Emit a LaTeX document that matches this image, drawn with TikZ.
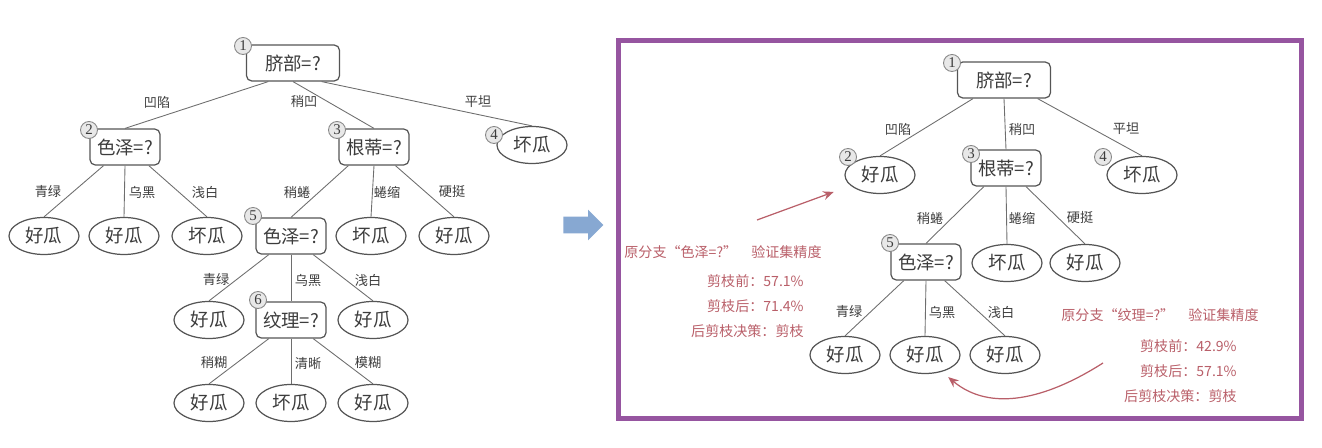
\documentclass[tikz,border=0pt]{standalone}
\usepackage{fontspec}
\setmainfont{Noto Sans CJK SC}
\newfontfamily\numfont{Liberation Serif}
\usepackage{tikz}
\usetikzlibrary{arrows.meta, shapes.geometric, shapes.arrows, positioning, calc}
\definecolor{boxgray}{RGB}{85,85,85}
\definecolor{edgegray}{RGB}{110,110,110}
\definecolor{nodegray}{RGB}{60,60,60}
\definecolor{numfill}{RGB}{232,232,232}
\definecolor{numdraw}{RGB}{135,135,135}
\definecolor{annored}{RGB}{185,95,105}
\definecolor{frameviolet}{RGB}{150,85,160}
\definecolor{arrowblue}{RGB}{135,168,210}

\begin{document}
\begin{tikzpicture}[x=0.02cm, y=-0.02cm,
        box/.style={rectangle, rounded corners=3pt, draw=boxgray, line width=0.7pt, fill=white, minimum width=1.4cm, minimum height=0.72cm, inner sep=2pt, text=nodegray, font=\fontsize{10.5}{12}\selectfont},
        root/.style={box, minimum width=1.86cm},
        leaf/.style={ellipse, draw=boxgray, line width=0.7pt, fill=white, minimum width=1.4cm, minimum height=0.74cm, inner sep=0pt, text=nodegray, font=\fontsize{10.5}{12}\selectfont},
        num/.style={circle, draw=numdraw, fill=numfill, line width=0.5pt, minimum size=0.34cm, inner sep=0pt, text=nodegray, font=\numfont\fontsize{8.5}{9}\selectfont},
        lbl/.style={inner sep=1pt, text=nodegray, font=\fontsize{7.5}{9}\selectfont},
        link/.style={draw=edgegray, line width=0.5pt},
        anno/.style={inner sep=0pt, text=annored, font=\fontsize{8}{14.2}\selectfont},
        redarrow/.style={draw=annored, line width=0.7pt, -{Stealth[length=6pt, width=5pt]}}
    ]
        \useasboundingbox (0,0) rectangle (1322,448);

        \node[root] (l1) at (293,63) {脐部=?};
        \node[box] (l2) at (125,147) {色泽=?};
        \node[box] (l3) at (374,147) {根蒂=?};
        \node[leaf] (l4) at (532,145) {坏瓜};
        \node[leaf] (l2a) at (44,236) {好瓜};
        \node[leaf] (l2b) at (124,236) {好瓜};
        \node[leaf] (l2c) at (207,236) {坏瓜};
        \node[box] (l5) at (291,236) {色泽=?};
        \node[leaf] (l3b) at (371,236) {坏瓜};
        \node[leaf] (l3c) at (454,236) {好瓜};
        \node[leaf] (l5a) at (209,320) {好瓜};
        \node[box] (l6) at (291,320) {纹理=?};
        \node[leaf] (l5c) at (373,320) {好瓜};
        \node[leaf] (l6a) at (209,403) {好瓜};
        \node[leaf] (l6b) at (291,403) {坏瓜};
        \node[leaf] (l6c) at (373,403) {好瓜};

        \draw[link] (l1.-143) -- (l2.north);
        \draw[link] (l1.south) -- (l3.north);
        \draw[link] (l1.-33) -- (l4.north);
        \draw[link] (l2.-139) -- (l2a.north);
        \draw[link] (l2.south) -- (l2b.north);
        \draw[link] (l2.-38) -- (l2c.north);
        \draw[link] (l3.-144) -- (l5.north);
        \draw[link] (l3.south) -- (l3b.north);
        \draw[link] (l3.-41) -- (l3c.north);
        \draw[link] (l5.-140) -- (l5a.north);
        \draw[link] (l5.south) -- (l6.north);
        \draw[link] (l5.-40) -- (l5c.north);
        \draw[link] (l6.-140) -- (l6a.north);
        \draw[link] (l6.south) -- (l6b.north);
        \draw[link] (l6.-40) -- (l6c.north);

        \node[lbl] (t12) at (157,102) {凹陷};
        \node[lbl] (t13) at (304,102) {稍凹};
        \node[lbl] (t14) at (478,102) {平坦};
        \node[lbl] (t2a) at (48,192) {青绿};
        \node[lbl] (t2b) at (142,192) {乌黑};
        \node[lbl] (t2c) at (205,192) {浅白};
        \node[lbl] (t35) at (297,192) {稍蜷};
        \node[lbl] (t3b) at (387,192) {蜷缩};
        \node[lbl] (t3c) at (452,192) {硬挺};
        \node[lbl] (t5a) at (216,280) {青绿};
        \node[lbl] (t56) at (308,280) {乌黑};
        \node[lbl] (t5c) at (368,280) {浅白};
        \node[lbl] (t6a) at (214,363) {稍糊};
        \node[lbl] (t6b) at (308,363) {清晰};
        \node[lbl] (t6c) at (368,363) {模糊};

        \node[num] (n1) at (243,46) {1};
        \node[num] (n2) at (89,130) {2};
        \node[num] (n3) at (337,130) {3};
        \node[num] (n4) at (494,135) {4};
        \node[num] (n5) at (253,216) {5};
        \node[num] (n6) at (258,300) {6};

        \node[single arrow, fill=arrowblue, inner sep=0pt, minimum height=0.8cm, single arrow head extend=0.14cm, anchor=west] (go) at (563,225) {\rule{0pt}{0.32cm}};

        \draw[frameviolet, line width=0.1cm] (618,41) rectangle (1301,419);

        \node[root] (r1) at (1004,80) {脐部=?};
        \node[leaf] (r2) at (880,175) {好瓜};
        \node[box] (r3) at (1006,168) {根蒂=?};
        \node[leaf] (r4) at (1142,175) {坏瓜};
        \node[box] (r5) at (926,262) {色泽=?};
        \node[leaf] (r3b) at (1007,263) {坏瓜};
        \node[leaf] (r3c) at (1085,263) {好瓜};
        \node[leaf] (r5a) at (845,355) {好瓜};
        \node[leaf] (r5b) at (925,355) {好瓜};
        \node[leaf] (r5c) at (1005,355) {好瓜};

        \draw[link] (r1.-149) -- (r2.north);
        \draw[link] (r1.south) -- (r3.north);
        \draw[link] (r1.-29) -- (r4.north);
        \draw[link] (r3.-140) -- (r5.north);
        \draw[link] (r3.south) -- (r3b.north);
        \draw[link] (r3.-43) -- (r3c.north);
        \draw[link] (r5.-140) -- (r5a.north);
        \draw[link] (r5.south) -- (r5b.north);
        \draw[link] (r5.-45) -- (r5c.north);

        \node[lbl] (s12) at (898,129) {凹陷};
        \node[lbl] (s13) at (1022,129) {稍凹};
        \node[lbl] (s14) at (1126,129) {平坦};
        \node[lbl] (s35) at (930,218) {稍蜷};
        \node[lbl] (s3b) at (1022,218) {蜷缩};
        \node[lbl] (s3c) at (1080,218) {硬挺};
        \node[lbl] (s5a) at (849,312) {青绿};
        \node[lbl] (s5b) at (942,312) {乌黑};
        \node[lbl] (s5c) at (1001,312) {浅白};

        \node[num] (m1) at (952,63) {1};
        \node[num] (m2) at (848,157) {2};
        \node[num] (m3) at (971,154) {3};
        \node[num] (m4) at (1103,157) {4};
        \node[num] (m5) at (890,243) {5};

        \node[anno] (h1) at (723,252) {原分支“色泽=?”\hspace{1em}验证集精度};
        \node[anno, align=right, anchor=east] (b1) at (804,306) {剪枝前：57.1\%\\剪枝后：71.4\%\\后剪枝决策：剪枝};
        \node[anno] (h2) at (1160,315) {原分支“纹理=?”\hspace{1em}验证集精度};
        \node[anno, align=right, anchor=east] (b2) at (1237,371) {剪枝前：42.9\%\\剪枝后：57.1\%\\后剪枝决策：剪枝};

        \coordinate (p1) at (757,220);
        \coordinate (p2) at (1103,363);
        \draw[redarrow, shorten >=0.36cm] (p1) -- (r2);
        \draw[redarrow] (p2) .. controls (1045,400) and (990,412) .. ([shift={(4,6)}]r5b.-40);
    \end{tikzpicture}
\end{document}
